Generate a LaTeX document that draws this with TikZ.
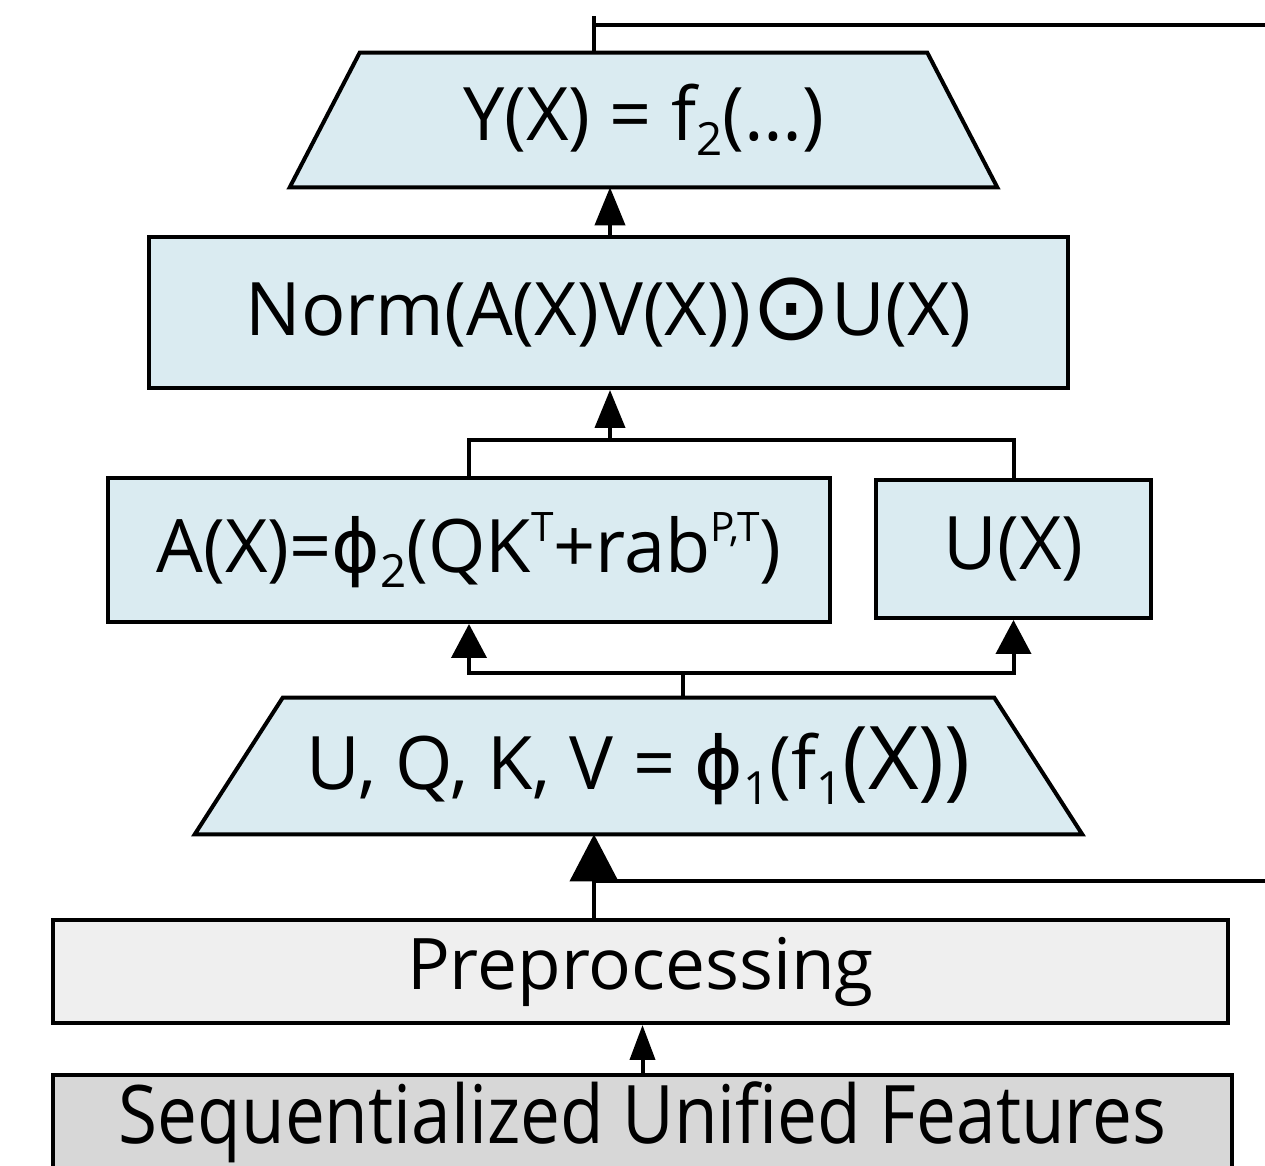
\documentclass[tikz,border=0pt]{standalone}
\usepackage{fontspec}
\setmainfont{Open Sans}
\newfontfamily\symf{DejaVu Sans}
\usetikzlibrary{arrows.meta,calc,backgrounds}

\definecolor{blockblue}{HTML}{DAEBF1}
\definecolor{prefill}{HTML}{EFEFEF}
\definecolor{featfill}{HTML}{D7D7D7}

\newcommand{\bigtext}{\fontsize{42}{48}\selectfont}
\newcommand{\lo}[1]{\raisebox{-0.2em}{\scalebox{0.62}{#1}}}
\newcommand{\hi}[1]{\raisebox{0.42em}{\scalebox{0.55}{#1}}}

\begin{document}
\begin{tikzpicture}[x=0.02cm, y=-0.02cm,
  wire/.style={line width=0.08cm},
  block/.style={draw, line width=0.08cm, fill=blockblue, inner sep=0pt,
    font=\bigtext},
  plate/.style={inner sep=0pt, font=\bigtext},
  trapfill/.style={draw, line width=0.08cm, fill=blockblue},
  tipA/.style={wire, -{Triangle[length=0.76cm, width=0.6cm]}},
  tipB/.style={wire, -{Triangle[length=0.68cm, width=0.7cm]}},
  tipC/.style={wire, -{Triangle[length=0.94cm, width=0.96cm]}},
  tipD/.style={wire, -{Triangle[length=0.7cm, width=0.5cm]}},
]
\useasboundingbox (0,0) rectangle (1265,1166);

% output projection (trapezoid)
\node[plate, minimum width=14.14cm, minimum height=2.68cm] (out) at (643.5,120)
  {Y(X) = f\lo{2}(…)};

% normalised attention times gate
\node[block, minimum width=18.38cm, minimum height=3.02cm] (norm) at (608.5,312.5)
  {Norm(A(X)V(X)){\symf\raisebox{-0.06em}{\scalebox{1.3}{⊙}}}U(X)};

% attention scores and gating branch
\node[block, minimum width=14.44cm, minimum height=2.88cm] (attn) at (469,550)
  {A(X)={\symf ϕ}\lo{2}(QK\hi{T}+rab\hi{P,T})};
\node[block, minimum width=5.5cm, minimum height=2.76cm] (ux) at (1013.5,549)
  {U(X)};

% input projection (trapezoid)
\node[plate, minimum width=17.74cm, minimum height=2.72cm] (gen) at (638.5,766)
  {U, Q, K, V = {\symf ϕ}\lo{1}(f\lo{1}{\fontsize{50}{56}\selectfont(X))}};

% preprocessing and input features
\node[block, fill=prefill, minimum width=23.5cm, minimum height=2.06cm,
  font=\fontsize{40.5}{46}\selectfont] (pre)
  at (640.5,971.5) {Preprocessing};
\node[block, fill=featfill, minimum width=23.58cm, minimum height=1.88cm,
  font=\fontsize{46}{52}\selectfont] (seq) at (642.5,1122)
  {\raisebox{-0.12em}{\scalebox{0.88}[1]{Sequentialized Unified Features}}};

\begin{scope}[on background layer]
  \filldraw[trapfill] (out.south west) -- (out.south east)
    -- ([xshift=-1.4cm]out.north east) -- ([xshift=1.4cm]out.north west) -- cycle;
  \filldraw[trapfill] (gen.south west) -- (gen.south east)
    -- ([xshift=-1.76cm]gen.north east) -- ([xshift=1.76cm]gen.north west) -- cycle;
\end{scope}

% helper points for the wiring
\coordinate (tap) at (594,16);
\coordinate (skipTop) at (1265,25);
\coordinate (mrg) at (610,440);
\coordinate (spl) at (683,673);
\coordinate (inx) at (594,0);
\coordinate (skipBot) at (1265,881);

% residual stream leaving the block at the top
\draw[wire] (out.north -| tap) -- (tap);
\draw[wire] (tap |- skipTop) -- (skipTop);

% output chain
\draw[tipA] (norm.north -| mrg) -- (out.south -| mrg);
\draw[wire] (attn.north) |- (mrg) -| (ux.north);
\draw[tipA] (mrg) -- (norm.south -| mrg);

% split of the projections
\draw[wire] (gen.north -| spl) -- (spl);
\draw[tipB] (spl) -| (attn.south);
\draw[tipB] (spl) -| (ux.south);

% input into the block, with the residual stream joining
\draw[tipC] (pre.north -| inx) -- (gen.south -| inx);
\draw[wire] (skipBot) -- (skipBot -| inx);

% features into preprocessing
\draw[tipD] (seq.north) -- (seq.north |- pre.south);
\end{tikzpicture}
\end{document}
